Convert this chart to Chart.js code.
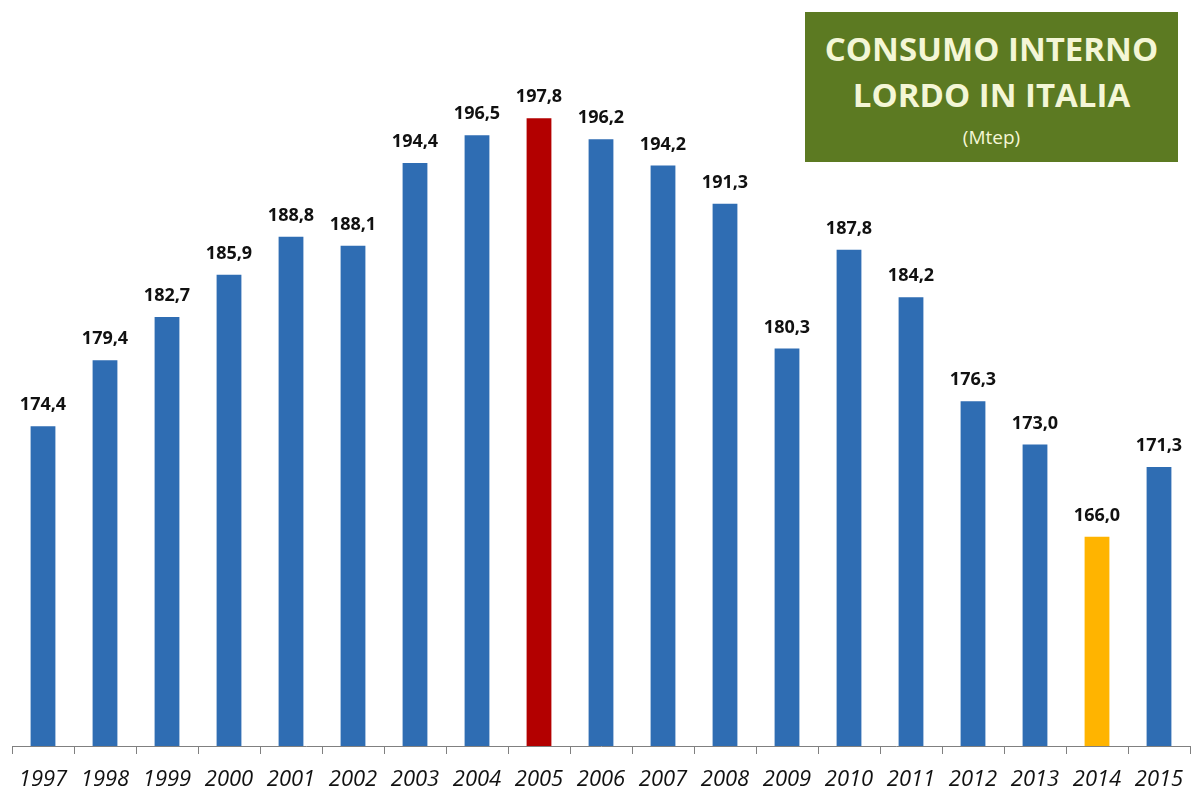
<!DOCTYPE html>
<html>
<head>
<meta charset="utf-8">
<script src="https://cdn.jsdelivr.net/npm/chart.js@4"></script>
<style>
  html, body { margin: 0; padding: 0; background: #fff; overflow: hidden; }
  #wrap { position: relative; width: 1192px; height: 790px; overflow: hidden; }
  #titleBox {
    position: absolute; left: 805px; top: 12px; width: 373px; height: 150px;
    background: #5c7a22; color: #f4f6d6; text-align: center;
    font-family: "Open Sans", sans-serif; box-sizing: border-box; padding-top: 14px;
  }
  #titleBox .t { font-weight: bold; font-size: 33px; line-height: 46px; }
  #titleBox .s { font-size: 19px; line-height: 38px; }
</style>
</head>
<body>
<div id="wrap">
  <canvas id="consumoChart" width="1192" height="790"></canvas>
  <div id="titleBox">
    <div class="t">CONSUMO INTERNO</div>
    <div class="t">LORDO IN ITALIA</div>
    <div class="s">(Mtep)</div>
  </div>
</div>
<script>
var anni = ["1997","1998","1999","2000","2001","2002","2003","2004","2005","2006","2007","2008","2009","2010","2011","2012","2013","2014","2015"];
var consumo = [174.4,179.4,182.7,185.9,188.8,188.1,194.4,196.5,197.8,196.2,194.2,191.3,180.3,187.8,184.2,176.3,173.0,166.0,171.3];
var coloriBarre = anni.map(function(a) {
  if (a === "2005") return "#b30000";
  if (a === "2014") return "#ffb400";
  return "#2f6db3";
});

// etichette sopra le barre
var etichette = {
  id: "etichette",
  afterDatasetsDraw: function(chart) {
    var ctx = chart.ctx;
    var meta = chart.getDatasetMeta(0);
    ctx.save();
    ctx.font = "bold 18px 'Open Sans', sans-serif";
    ctx.fillStyle = "#111";
    ctx.textAlign = "center";
    ctx.textBaseline = "bottom";
    meta.data.forEach(function(bar, i) {
      ctx.fillText(consumo[i].toFixed(1).replace(".", ","), bar.x, bar.y - 12);
    });
    ctx.restore();
  }
};

var canvas = document.getElementById("consumoChart");
var chart = new Chart(canvas, {
  type: "bar",
  data: {
    labels: anni,
    datasets: [{
      data: consumo,
      backgroundColor: coloriBarre,
      barPercentage: 0.4,
      categoryPercentage: 1.0
    }]
  },
  options: {
    responsive: false,
    animation: false,
    layout: { padding: { left: 12, right: 2, top: 20, bottom: 0 } },
    plugins: { legend: { display: false }, tooltip: { enabled: false } },
    scales: {
      y: { display: false, min: 150.1, max: 205.26 },
      x: {
        offset: true,
        afterFit: function(axis) {
          axis.height = 44;
          axis.paddingLeft = 0;
          axis.paddingRight = 0;
        },
        grid: { display: true, drawOnChartArea: false, offset: true, tickLength: 8, color: "#808080" },
        border: { display: true, color: "#808080" },
        ticks: {
          color: "#111",
          padding: 14,
          maxRotation: 0,
          autoSkip: false,
          font: { family: "'Open Sans', sans-serif", size: 22, style: "italic", lineHeight: 1.1 }
        }
      }
    }
  },
  plugins: [etichette]
});
</script>
</body>
</html>
